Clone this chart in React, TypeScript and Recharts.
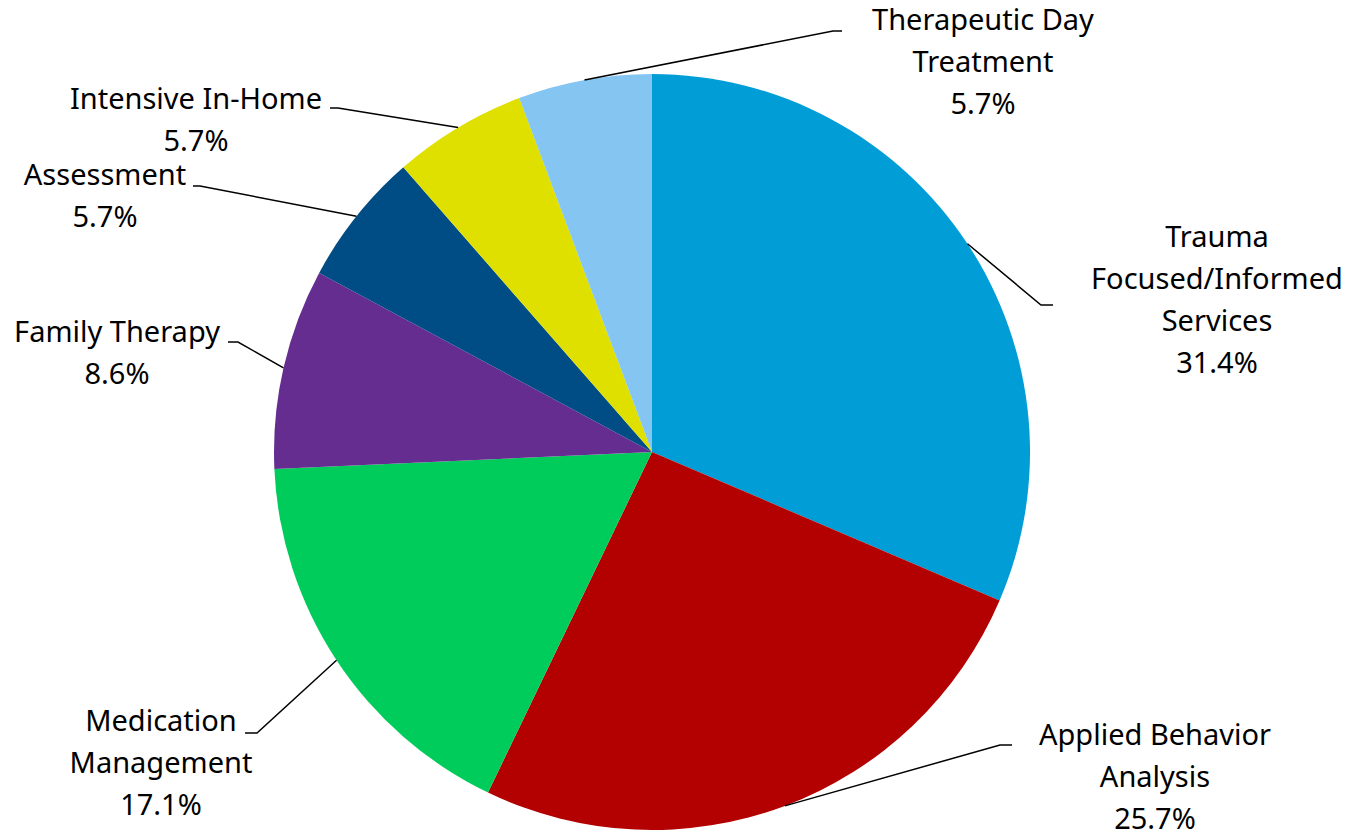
import { PieChart, Pie, Cell } from 'recharts'

const categories = [
  'Trauma Focused/Informed Services',
  'Applied Behavior Analysis',
  'Medication Management',
  'Family Therapy',
  'Assessment',
  'Intensive In-Home',
  'Therapeutic Day Treatment',
]

const counts = [11, 9, 6, 3, 2, 2, 2]

// label text broken the way the reference wraps it
const labelLines = [
  ['Trauma', 'Focused/Informed', 'Services'],
  ['Applied Behavior', 'Analysis'],
  ['Medication', 'Management'],
  ['Family Therapy'],
  ['Assessment'],
  ['Intensive In-Home'],
  ['Therapeutic Day', 'Treatment'],
]

const COLORS = ['#009dd6', '#b30000', '#00cc5c', '#662d91', '#004c84', '#e0e000', '#85c5f2']

// leader elbow, leader end, text center x, first line center y
const LABEL_LAYOUT = [
  { ex: 1041, ey: 305, hx: 1053, tx: 1217, ty: 237 },
  { ex: 1000, ey: 745, hx: 1012, tx: 1155, ty: 735 },
  { ex: 257, ey: 733, hx: 245, tx: 161, ty: 721 },
  { ex: 238, ey: 342, hx: 228, tx: 117, ty: 332 },
  { ex: 200, ey: 186, hx: 193, tx: 105, ty: 175 },
  { ex: 338, ey: 108, hx: 330, tx: 196, ty: 99 },
  { ex: 833, ey: 31, hx: 842, tx: 983, ty: 20 },
]

const data = categories.map((name, i) => ({ name, value: counts[i] }))
const total = counts.reduce((a, b) => a + b, 0)

const RAD = Math.PI / 180
const LINE_H = 42

function renderLabel(props: any) {
  const { cx, cy, midAngle, outerRadius, index, value } = props
  const sx = cx + outerRadius * Math.cos(-midAngle * RAD)
  const sy = cy + outerRadius * Math.sin(-midAngle * RAD)
  const l = LABEL_LAYOUT[index]
  const lines = [...labelLines[index], `${((value / total) * 100).toFixed(1)}%`]
  return (
    <g key={`label-${index}`}>
      <polyline
        points={`${sx},${sy} ${l.ex},${l.ey} ${l.hx},${l.ey}`}
        fill="none"
        stroke="#000"
        strokeWidth={1.5}
      />
      <text
        x={l.tx}
        y={l.ty + 10}
        textAnchor="middle"
        fill="#000"
        fontSize={29}
        fontFamily="'Noto Sans', 'Open Sans', sans-serif"
      >
        {lines.map((t, i) => (
          <tspan key={i} x={l.tx} dy={i === 0 ? 0 : LINE_H}>
            {t}
          </tspan>
        ))}
      </text>
    </g>
  )
}

export default function App() {
  return (
    <div style={{ position: 'absolute', left: 0, top: 0, background: '#fff' }}>
      <PieChart width={1352} height={835} margin={{ top: 0, right: 0, bottom: 0, left: 0 }}>
        <Pie
          data={data}
          dataKey="value"
          nameKey="name"
          cx={652}
          cy={452}
          outerRadius={378}
          startAngle={90}
          endAngle={-270}
          stroke="none"
          label={renderLabel}
          labelLine={false}
          isAnimationActive={false}
        >
          {data.map((entry, index) => (
            <Cell key={`cell-${index}`} fill={COLORS[index]} />
          ))}
        </Pie>
      </PieChart>
    </div>
  )
}
